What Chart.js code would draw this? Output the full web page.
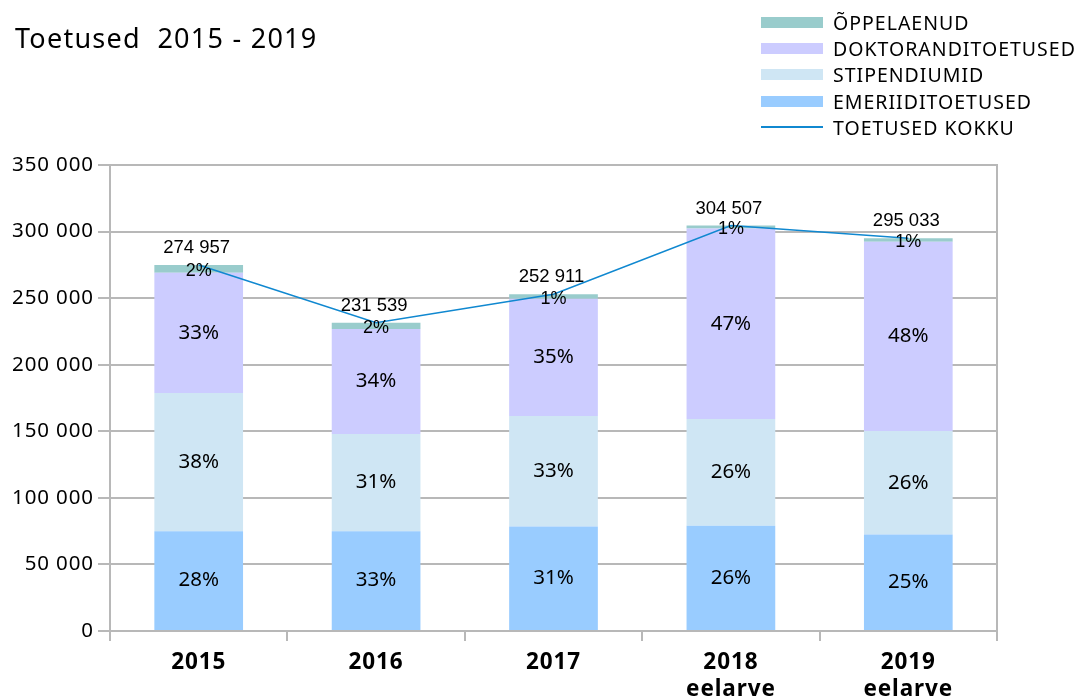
<!DOCTYPE html>
<html><head><meta charset="utf-8">
<script src="https://cdn.jsdelivr.net/npm/chart.js@4/dist/chart.umd.min.js"></script>
<style>
html,body{margin:0;padding:0;background:#fff;}
#wrap{position:relative;width:1078px;height:697px;overflow:hidden;}
#title{position:absolute;left:15px;top:19px;font-family:"Noto Sans",sans-serif;font-size:27px;line-height:normal;color:#000;white-space:pre;letter-spacing:1.25px;}
#legend{position:absolute;left:761px;top:9px;font-family:"Noto Sans",sans-serif;font-size:19.5px;color:#000;letter-spacing:1.0px;}
.li{display:flex;align-items:center;height:26.3px;}
.sw{width:62px;height:11px;margin-right:10px;}
.ln{width:62px;height:2px;margin-right:10px;}
canvas{position:absolute;left:0;top:0;}
</style></head><body>
<div id="wrap">
<canvas id="c" width="1078" height="697"></canvas>
<div id="title">Toetused  2015 - 2019</div>
<div id="legend"></div>
</div>
<script>
const categories = [["2015"],["2016"],["2017"],["2018","eelarve"],["2019","eelarve"]];
const emeriiditoetused   = [75000, 75000, 78500, 79000, 72500];
const stipendiumid       = [103800, 73000, 83000, 80300, 77800];
const doktoranditoetused = [90200, 78900, 88000, 143000, 142000];
const oppelaenud         = [5957, 4639, 3411, 2207, 2733];
const toetusedKokku      = [274957, 231539, 252911, 304507, 295033];
const pctEmer  = ["28%","33%","31%","26%","25%"];
const pctStip  = ["38%","31%","33%","26%","26%"];
const pctDokt  = ["33%","34%","35%","47%","48%"];
const pctOppel = ["2%","2%","1%","1%","1%"];
const yTicks = [0,50000,100000,150000,200000,250000,300000,350000];

const colors = {oppel:'#99cccc', dokt:'#ccccff', stip:'#cfe6f4', emer:'#99ccff', line:'#1088d0'};

function fmt(v){return String(v).replace(/\B(?=(\d{3})+(?!\d))/g,' ');}

const legendItems = [
  ['ÕPPELAENUD', colors.oppel, 'box'],
  ['DOKTORANDITOETUSED', colors.dokt, 'box'],
  ['STIPENDIUMID', colors.stip, 'box'],
  ['EMERIIDITOETUSED', colors.emer, 'box'],
  ['TOETUSED KOKKU', colors.line, 'line']
];
document.getElementById('legend').innerHTML = legendItems.map(([t,c,k]) =>
  `<div class="li"><div class="${k==='box'?'sw':'ln'}" style="background:${c}"></div>${t}</div>`).join('');

const spacingPlugin = {
  id:'spacing',
  beforeDraw(chart){ chart.ctx.letterSpacing = '0.9px'; }
};

const labelPlugin = {
  id:'labels',
  afterDatasetsDraw(chart){
    const ctx = chart.ctx;
    ctx.save();
    ctx.letterSpacing = '0px';
    ctx.textAlign='center'; ctx.textBaseline='middle'; ctx.fillStyle='#000';
    const segs = [[0,pctEmer],[1,pctStip],[2,pctDokt]];
    ctx.font = '20.5px "Noto Sans"';
    segs.forEach(([di,arr])=>{
      chart.getDatasetMeta(di).data.forEach((b,i)=>{
        ctx.fillText(arr[i], b.x, (b.y+b.base)/2);
      });
    });
    ctx.font = '18px "Liberation Sans"';
    chart.getDatasetMeta(3).data.forEach((b,i)=>{
      ctx.fillText(pctOppel[i], b.x, (b.y+b.base)/2 + 2);
    });
    ctx.font = '18.5px "Liberation Sans"';
    chart.getDatasetMeta(3).data.forEach((b,i)=>{
      ctx.fillText(fmt(toetusedKokku[i]), b.x - 2, b.y - 17);
    });
    const a = chart.chartArea;
    ctx.strokeStyle='#b8b8b8'; ctx.lineWidth=2;
    ctx.beginPath(); ctx.moveTo(a.right, a.top-1); ctx.lineTo(a.right, a.bottom); ctx.stroke();
    ctx.restore();
  }
};

new Chart(document.getElementById('c'), {
  data:{
    labels: categories,
    datasets:[
      {type:'bar', label:'EMERIIDITOETUSED', data:emeriiditoetused, backgroundColor:colors.emer, stack:'s', order:2, barPercentage:0.5, categoryPercentage:1},
      {type:'bar', label:'STIPENDIUMID', data:stipendiumid, backgroundColor:colors.stip, stack:'s', order:2, barPercentage:0.5, categoryPercentage:1},
      {type:'bar', label:'DOKTORANDITOETUSED', data:doktoranditoetused, backgroundColor:colors.dokt, stack:'s', order:2, barPercentage:0.5, categoryPercentage:1},
      {type:'bar', label:'ÕPPELAENUD', data:oppelaenud, backgroundColor:colors.oppel, stack:'s', order:2, barPercentage:0.5, categoryPercentage:1},
      {type:'line', label:'TOETUSED KOKKU', data:toetusedKokku, borderColor:colors.line, borderWidth:1.6, pointRadius:0, tension:0, stack:'t', order:1}
    ]
  },
  options:{
    responsive:false, animation:false,
    layout:{padding:{top:165, right:81, bottom:0, left:0}},
    plugins:{legend:{display:false}, tooltip:{enabled:false}},
    scales:{
      x:{
        stacked:true,
        grid:{display:true, offset:true, drawOnChartArea:false, drawTicks:true, tickLength:10, color:'#b8b8b8', lineWidth:2},
        border:{display:true, color:'#b8b8b8', width:2},
        ticks:{color:'#000', font:{family:'"Noto Sans"', size:22.5, weight:'bold', lineHeight:1.2}, padding:8, maxRotation:0},
        afterFit(s){ s.height = 66; }
      },
      y:{
        stacked:true, min:0, max:350000,
        afterBuildTicks(s){ s.ticks = yTicks.map(v=>({value:v})); },
        grid:{color:'#b8b8b8', lineWidth:2, tickLength:12, drawTicks:true},
        border:{display:true, color:'#b8b8b8', width:2},
        ticks:{color:'#000', font:{family:'"Noto Sans"', size:20.5}, padding:4, callback:(v)=>fmt(v)},
        afterFit(s){ s.width = 110; }
      }
    }
  },
  plugins:[spacingPlugin, labelPlugin]
});
</script>
</body></html>
